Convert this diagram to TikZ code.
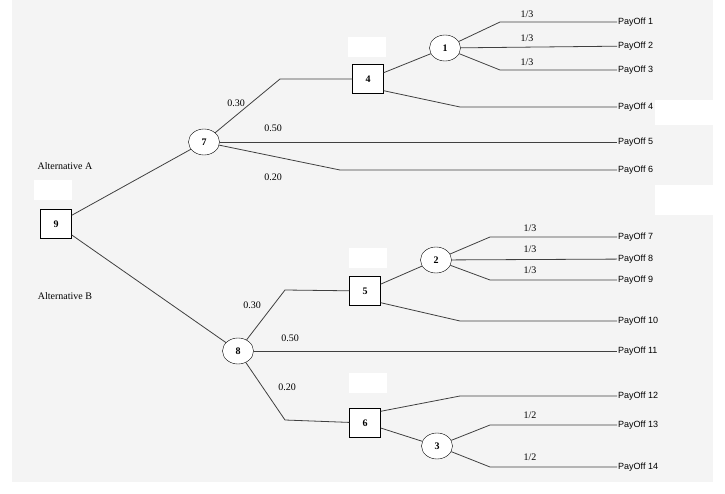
\documentclass[tikz,border=0pt]{standalone}
\usetikzlibrary{shapes.geometric}
\usepackage{fontspec}
\setmainfont{Liberation Serif}
\newfontfamily\pf{Liberation Sans}
\begin{document}
\begin{tikzpicture}[x=1pt,y=-1pt,
 box/.style={draw,fill=white,minimum width=31pt,minimum height=29pt,inner sep=0pt,font=\bfseries\normalsize},
 chance/.style={draw,fill=white,ellipse,minimum width=31pt,minimum height=26pt,inner sep=0pt,font=\bfseries\normalsize},
 blank/.style={fill=white,minimum width=38pt,minimum height=20pt,inner sep=0pt},
 pay/.style={anchor=west,font=\pf\small,inner sep=1pt},
 lab/.style={font=\normalsize,inner sep=1pt},
 ln/.style={draw,line width=0.8pt,black!75}]
\useasboundingbox (0,0) rectangle (725,494);
\fill[gray!9] (12,0) rectangle (713,482);
\fill[white] (655,100) rectangle (713,125);
\fill[white] (655,185) rectangle (713,215);
\node[blank] at (367,47) {};
\node[blank] at (53,190) {};
\node[blank] at (368,258) {};
\node[blank] at (368,383) {};
\node[box] (n9) at (56,224) {9};
\node[chance] (n7) at (204,142) {7};
\node[chance] (n8) at (238,351) {8};
\node[box] (n4) at (368,79) {4};
\node[chance] (n1) at (445,48) {1};
\node[box] (n5) at (365,291) {5};
\node[chance] (n2) at (436,260) {2};
\node[box] (n6) at (365,423) {6};
\node[chance] (n3) at (437,446) {3};
\foreach \i/\y in {1/22,2/46,3/70,4/107,5/142,6/170,7/237,8/259,9/280,10/321,11/351,12/396,13/425,14/467}
 \node[pay] (p\i) at (617,\y) {PayOff \i};
\path[ln] (n9) -- (n7);
\path[ln] (n9) -- (n8);
\path[ln] (n7) -- (280,79) -- (n4);
\path[ln] (n7) -- (p5);
\path[ln] (n7) -- (340,170) -- (p6);
\path[ln] (n4) -- (n1);
\path[ln] (n1) -- (500,22) -- (p1);
\path[ln] (n1) -- (p2);
\path[ln] (n1) -- (500,70) -- (p3);
\path[ln] (n4.south east) ++(0,-3) -- (460,107) -- (p4);
\path[ln] (n8) -- (285,290) -- (n5);
\path[ln] (n8) -- (p11);
\path[ln] (n8) -- (285,420) -- (n6);
\path[ln] (n5) -- (n2);
\path[ln] (n2) -- (490,237) -- (p7);
\path[ln] (n2) -- (p8);
\path[ln] (n2) -- (490,280) -- (p9);
\path[ln] (n5.south east) ++(0,-3) -- (460,321) -- (p10);
\path[ln] (n6.north east) ++(0,3) -- (460,396) -- (p12);
\path[ln] (n6) -- (n3);
\path[ln] (n3) -- (490,425) -- (p13);
\path[ln] (n3) -- (490,467) -- (p14);
\node[lab] at (236,103) {0.30};
\node[lab] at (273,128) {0.50};
\node[lab] at (273,177) {0.20};
\node[lab] at (252,305) {0.30};
\node[lab] at (290,338) {0.50};
\node[lab] at (287,387) {0.20};
\foreach \y in {14,38,62} \node[lab] at (527,\y) {1/3};
\foreach \y in {228,249,270} \node[lab] at (530,\y) {1/3};
\foreach \y in {415,457} \node[lab] at (530,\y) {1/2};
\node[lab] at (65,166) {Alternative A};
\node[lab] at (65,296) {Alternative B};
\end{tikzpicture}
\end{document}
